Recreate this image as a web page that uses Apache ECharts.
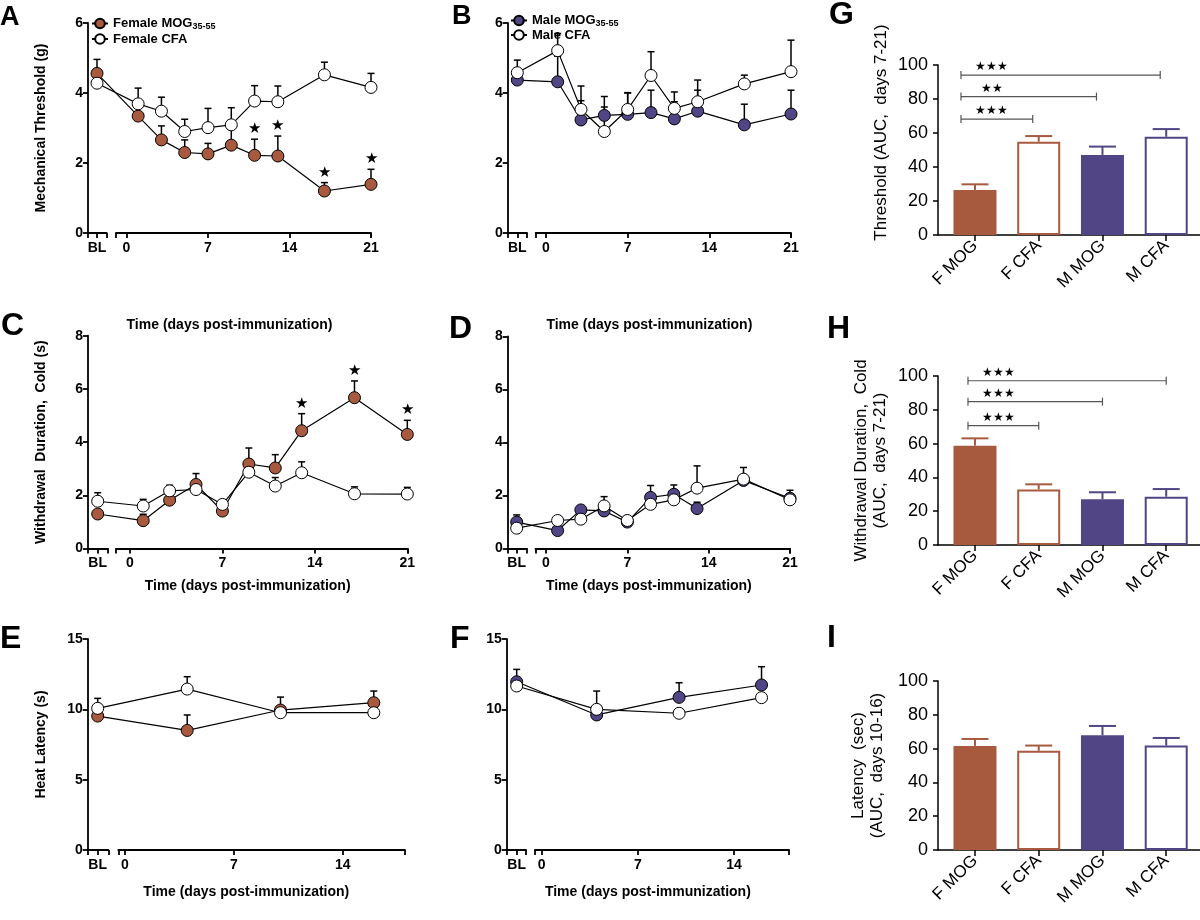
<!DOCTYPE html>
<html><head><meta charset="utf-8">
<script src="https://cdn.jsdelivr.net/npm/echarts@6/dist/echarts.min.js"></script>
<style>html,body{margin:0;padding:0;background:#fff}#c{width:1200px;height:920px}</style>
</head><body><div id="c"></div>
<script>
// ================= DATA =================
const daysMain = ['BL', 1, 3, 5, 7, 9, 11, 13, 17, 21];   // panels A-D
const daysHeat = ['BL', 4, 10, 16];                       // panels E-F
const ticksMain = [0, 7, 14, 21];
const ticksHeat = [0, 7, 14];

// A: female mechanical threshold (g)
const mechFemMogMean = [4.56, 3.34, 2.66, 2.30, 2.26, 2.51, 2.22, 2.20, 1.20, 1.39];
const mechFemMogSem  = [0.40, 0.25, 0.40, 0.36, 0.30, 0.50, 0.46, 0.57, 0.24, 0.43];
const mechFemCfaMean = [4.28, 3.69, 3.48, 2.90, 3.01, 3.09, 3.77, 3.75, 4.52, 4.16];
const mechFemCfaSem  = [0.20, 0.45, 0.40, 0.35, 0.55, 0.49, 0.44, 0.45, 0.36, 0.40];
const mechFemSigDays = [11, 13, 17, 21];

// B: male mechanical threshold (g)
const mechMaleMogMean = [4.37, 4.32, 3.23, 3.36, 3.39, 3.44, 3.26, 3.48, 3.09, 3.40];
const mechMaleMogSem  = [0.20, 0.73, 0.55, 0.54, 0.61, 0.64, 0.49, 0.60, 0.59, 0.68];
const mechMaleCfaMean = [4.58, 5.21, 3.53, 2.90, 3.53, 4.50, 3.56, 3.75, 4.26, 4.61];
const mechMaleCfaSem  = [0.36, 0.49, 0.67, 0.70, 0.48, 0.68, 0.47, 0.62, 0.25, 0.90];

// C: female cold withdrawal duration (s)
const coldFemMogMean = [1.30, 1.05, 1.82, 2.41, 1.41, 3.18, 3.03, 4.43, 5.67, 4.29];
const coldFemMogSem  = [0.10, 0.24, 0.15, 0.41, 0.10, 0.60, 0.50, 0.64, 0.63, 0.53];
const coldFemCfaMean = [1.78, 1.60, 2.17, 2.22, 1.66, 2.87, 2.35, 2.85, 2.06, 2.05];
const coldFemCfaSem  = [0.32, 0.25, 0.21, 0.15, 0.10, 0.15, 0.32, 0.41, 0.26, 0.25];
const coldFemSigDays = [13, 17, 21];

// D: male cold withdrawal duration (s)
const coldMaleMogMean = [1.00, 0.68, 1.46, 1.42, 1.00, 1.93, 2.05, 1.51, 2.57, 1.90];
const coldMaleMogSem  = [0.27, 0.10, 0.10, 0.15, 0.10, 0.45, 0.35, 0.24, 0.20, 0.30];
const coldMaleCfaMean = [0.77, 1.06, 1.11, 1.61, 1.06, 1.67, 1.84, 2.28, 2.62, 1.84];
const coldMaleCfaSem  = [0.10, 0.10, 0.10, 0.35, 0.10, 0.20, 0.20, 0.84, 0.44, 0.20];

// E: female heat latency (s)
const heatFemMogMean = [9.52, 8.50, 9.95, 10.47];
const heatFemMogSem  = [0.30, 1.10, 0.92, 0.83];
const heatFemCfaMean = [10.07, 11.44, 9.76, 9.76];
const heatFemCfaSem  = [0.71, 0.88, 0.20, 0.20];

// F: male heat latency (s)
const heatMaleMogMean = [11.96, 9.60, 10.85, 11.73];
const heatMaleMogSem  = [0.88, 0.30, 1.04, 1.30];
const heatMaleCfaMean = [11.66, 10.00, 9.72, 10.83];
const heatMaleCfaSem  = [0.30, 1.30, 0.20, 0.20];

// G-I: AUC bar charts
const groups = ['F MOG', 'F CFA', 'M MOG', 'M CFA'];
const aucMechMean = [26.5, 54.9, 47.1, 57.8];
const aucMechSem  = [3.3, 3.3, 4.9, 4.5];
const aucColdMean = [58.8, 32.9, 27.0, 28.6];
const aucColdSem  = [4.3, 3.0, 4.2, 4.5];
const aucHeatMean = [61.6, 58.7, 67.9, 61.8];
const aucHeatSem  = [4.1, 3.1, 5.5, 4.5];

// significance brackets (from F MOG to group index)
const aucMechSigTo = [3, 2, 1];
const aucMechSigY = [94.1, 81.4, 68.2];
const aucMechSigStars = ['★★★', '★★', '★★★'];
const aucColdSigTo = [3, 2, 1];
const aucColdSigY = [97.2, 84.8, 70.6];
const aucColdSigStars = ['★★★', '★★★', '★★★'];

// ================= STYLE / LAYOUT =================
const FONT = '"Liberation Sans", Arial, Helvetica, sans-serif';
const FEMALE = '#A85A3E';
const MALE = '#514585';
const BLACK = '#000';

const grid = [], xAxis = [], yAxis = [], series = [], title = [], legend = [];

function errRender(capHalf, lw, colorFn) {
  return function (params, api) {
    const x = api.value(0), m = api.value(1), t = api.value(2);
    const p0 = api.coord([x, m]), p1 = api.coord([x, t]);
    const c = colorFn ? colorFn(params.dataIndex) : BLACK;
    return {type: 'group', children: [
      {type: 'line', shape: {x1: p0[0], y1: p0[1], x2: p1[0], y2: p1[1]}, style: {stroke: c, lineWidth: lw}},
      {type: 'line', shape: {x1: p1[0] - capHalf, y1: p1[1], x2: p1[0] + capHalf, y2: p1[1]}, style: {stroke: c, lineWidth: lw}}
    ]};
  };
}

function addLinePanel(L, days, ticks, sets, yName, xName, xNameGap, sigDays) {
  const min = (L.yx - L.x0) / L.ppd;
  const max = L.dEnd;
  const blPos = (L.bl - L.x0) / L.ppd;
  const xOf = d => (d === 'BL' ? blPos : d);
  const top = L.top, height = L.bottom - L.top;
  const width = L.x0 + L.ppd * L.dEnd - L.yx;
  const axLine = {color: BLACK, width: 1.8};
  const labelStyle = {color: BLACK, fontFamily: FONT, fontWeight: 'bold', fontSize: 14};

  // main data grid
  const gi = grid.length;
  grid.push({left: L.yx, top, width, height});
  const xi = xAxis.length, yi = yAxis.length;
  const tv = [blPos].concat(ticks);
  xAxis.push({
    gridIndex: gi, type: 'value', min, max,
    axisLine: {show: false}, splitLine: {show: false},
    axisTick: {show: true, length: 5, lineStyle: axLine, customValues: tv},
    axisLabel: Object.assign({show: true, margin: 8, customValues: tv,
      formatter: v => (Math.abs(v - blPos) < 1e-6 ? 'BL' : String(Math.round(v)))}, labelStyle),
    name: xName, nameLocation: 'middle', nameGap: xNameGap,
    nameTextStyle: {color: BLACK, fontFamily: FONT, fontWeight: 'bold', fontSize: 14}
  });
  yAxis.push({
    gridIndex: gi, type: 'value', min: 0, max: L.ymax, interval: L.yint,
    axisLine: {show: true, onZero: false, lineStyle: axLine},
    axisTick: {show: true, length: 5, lineStyle: axLine},
    axisLabel: Object.assign({margin: 5}, labelStyle),
    splitLine: {show: false},
    name: yName, nameLocation: 'middle', nameGap: 40,
    nameTextStyle: {color: BLACK, fontFamily: FONT, fontWeight: 'bold', fontSize: 14}
  });

  // broken x-axis segments
  [[L.yx, L.s1], [L.s2, L.x0 + L.ppd * L.dEnd]].forEach(([a, b]) => {
    const g = grid.length;
    grid.push({left: a, top, width: b - a, height});
    xAxis.push({gridIndex: g, type: 'value', min: 0, max: 1,
      axisLine: {show: true, onZero: false, lineStyle: axLine},
      axisTick: {show: true, length: 5, lineStyle: axLine, customValues: [0, 1]},
      axisLabel: {show: false}, splitLine: {show: false}});
    yAxis.push({gridIndex: g, type: 'value', min: 0, max: 1, show: false});
  });

  sets.forEach((s, k) => {
    series.push({
      type: 'custom', xAxisIndex: xi, yAxisIndex: yi, z: 1, silent: true,
      renderItem: errRender(3.5, 1.5),
      data: days.map((d, i) => [xOf(d), s.mean[i], s.mean[i] + s.sem[i]])
    });
    series.push({
      type: 'line', name: s.name, xAxisIndex: xi, yAxisIndex: yi, z: 3 + k,
      symbol: 'circle', symbolSize: 12, showSymbol: true,
      itemStyle: {color: s.fill, borderColor: BLACK, borderWidth: 1},
      lineStyle: {color: BLACK, width: 1.2},
      data: days.map((d, i) => [xOf(d), s.mean[i]])
    });
  });

  if (sigDays) {
    const s = sets[0];
    series.push({
      type: 'custom', xAxisIndex: xi, yAxisIndex: yi, z: 6, silent: true,
      renderItem: function (params, api) {
        const p = api.coord([api.value(0), api.value(1)]);
        return {type: 'text', x: p[0], y: p[1] - 10,
          style: {text: '★', fill: BLACK, fontSize: 15, align: 'center', verticalAlign: 'middle'}};
      },
      data: sigDays.map(d => {
        const i = days.indexOf(d);
        return [xOf(d), s.mean[i] + s.sem[i]];
      })
    });
  }
}

const barStyles = [
  {color: FEMALE},
  {color: '#fff', borderColor: FEMALE, borderWidth: 2},
  {color: MALE},
  {color: '#fff', borderColor: MALE, borderWidth: 2}
];
const barColors = [FEMALE, FEMALE, MALE, MALE];

function addBarPanel(B, means, sems, yName, yNameGap, yNamePad, sig) {
  const gi = grid.length;
  grid.push({left: 938, top: B.top, width: 262, height: B.bottom - B.top});
  const xi = xAxis.length, yi = yAxis.length;
  const axLine = {color: BLACK, width: 1.5};
  const cv = [0, 1, 2, 3];
  xAxis.push({gridIndex: gi, type: 'value', min: -0.58, max: 3.53,
    axisLine: {show: true, onZero: false, lineStyle: axLine},
    axisTick: {show: true, length: 6, lineStyle: axLine, customValues: cv},
    axisLabel: {customValues: cv, formatter: v => groups[Math.round(v)], rotate: 45, margin: 8,
      color: BLACK, fontFamily: FONT, fontSize: 17},
    splitLine: {show: false}});
  yAxis.push({gridIndex: gi, type: 'value', min: 0, max: 100, interval: 20,
    axisLine: {show: true, onZero: false, lineStyle: axLine},
    axisTick: {show: true, length: 5, lineStyle: axLine},
    axisLabel: {margin: 10, color: BLACK, fontFamily: FONT, fontSize: 18},
    splitLine: {show: false},
    name: yName, nameLocation: 'middle', nameGap: yNameGap,
    nameTextStyle: {color: BLACK, fontFamily: FONT, fontSize: 17, lineHeight: 19, padding: yNamePad, align: 'center'}});
  series.push({type: 'bar', xAxisIndex: xi, yAxisIndex: yi, barWidth: 43, z: 2,
    data: means.map((m, i) => ({value: [i, m], itemStyle: barStyles[i]}))});
  series.push({type: 'custom', xAxisIndex: xi, yAxisIndex: yi, z: 1, silent: true,
    renderItem: errRender(13.5, 2, i => barColors[i]),
    data: means.map((m, i) => [i, m, m + sems[i]])});
  if (sig) {
    series.push({type: 'custom', xAxisIndex: xi, yAxisIndex: yi, z: 3, silent: true,
      renderItem: function (params, api) {
        const a = api.coord([api.value(0), api.value(2)]);
        const b = api.coord([api.value(1), api.value(2)]);
        const x1 = a[0] + B.bracketStart, x2 = b[0] + B.bracketEnd, y = a[1];
        const st = {stroke: '#555', lineWidth: 1.2};
        return {type: 'group', children: [
          {type: 'line', shape: {x1, y1: y, x2, y2: y}, style: st},
          {type: 'line', shape: {x1, y1: y - 4, x2: x1, y2: y + 4}, style: st},
          {type: 'line', shape: {x1: x2, y1: y - 4, x2, y2: y + 4}, style: st},
          {type: 'text', x: x1 + 31, y: y - 8,
            style: {text: sig.stars[params.dataIndex], fill: BLACK, fontSize: 12, align: 'center', verticalAlign: 'middle'}}
        ]};
      },
      data: sig.to.map((t, i) => [0, t, sig.y[i]])});
  }
}

// ================= BUILD =================
const TIME = 'Time (days post-immunization)';
addLinePanel({yx: 88, x0: 126.5, ppd: 11.643, dEnd: 21, bl: 97, s1: 106.7, s2: 116, top: 23, bottom: 233, ymax: 6, yint: 2},
  daysMain, ticksMain,
  [{name: 'Female MOG', mean: mechFemMogMean, sem: mechFemMogSem, fill: FEMALE},
   {name: 'Female CFA', mean: mechFemCfaMean, sem: mechFemCfaSem, fill: '#fff'}],
  'Mechanical Threshold (g)', TIME, 85, mechFemSigDays);
addLinePanel({yx: 507.7, x0: 546, ppd: 11.667, dEnd: 21, bl: 517.3, s1: 527, s2: 535.7, top: 23, bottom: 233, ymax: 6, yint: 2},
  daysMain, ticksMain,
  [{name: 'Male MOG', mean: mechMaleMogMean, sem: mechMaleMogSem, fill: MALE},
   {name: 'Male CFA', mean: mechMaleCfaMean, sem: mechMaleCfaSem, fill: '#fff'}],
  '', TIME, 85, null);
addLinePanel({yx: 88, x0: 130, ppd: 13.205, dEnd: 21, bl: 97.7, s1: 108, s2: 116, top: 335.7, bottom: 548.6, ymax: 8, yint: 2},
  daysMain, ticksMain,
  [{name: 'Female MOG', mean: coldFemMogMean, sem: coldFemMogSem, fill: FEMALE},
   {name: 'Female CFA', mean: coldFemCfaMean, sem: coldFemCfaSem, fill: '#fff'}],
  'Withdrawal  Duration,  Cold (s)', TIME, 31, coldFemSigDays);
addLinePanel({yx: 507.7, x0: 546, ppd: 11.619, dEnd: 21, bl: 516.7, s1: 527, s2: 535.5, top: 336.5, bottom: 548.6, ymax: 8, yint: 2},
  daysMain, ticksMain,
  [{name: 'Male MOG', mean: coldMaleMogMean, sem: coldMaleMogSem, fill: MALE},
   {name: 'Male CFA', mean: coldMaleCfaMean, sem: coldMaleCfaSem, fill: '#fff'}],
  '', TIME, 31, null);
addLinePanel({yx: 87.7, x0: 125, ppd: 15.55, dEnd: 18, bl: 97.7, s1: 108.3, s2: 118.3, top: 639, bottom: 850, ymax: 15, yint: 5},
  daysHeat, ticksHeat,
  [{name: 'Female MOG', mean: heatFemMogMean, sem: heatFemMogSem, fill: FEMALE},
   {name: 'Female CFA', mean: heatFemCfaMean, sem: heatFemCfaSem, fill: '#fff'}],
  'Heat Latency (s)', TIME, 35, null);
addLinePanel({yx: 506.7, x0: 541.7, ppd: 13.74, dEnd: 18, bl: 516.7, s1: 526, s2: 535, top: 639, bottom: 850, ymax: 15, yint: 5},
  daysHeat, ticksHeat,
  [{name: 'Male MOG', mean: heatMaleMogMean, sem: heatMaleMogSem, fill: MALE},
   {name: 'Male CFA', mean: heatMaleCfaMean, sem: heatMaleCfaSem, fill: '#fff'}],
  '', TIME, 35, null);

addBarPanel({top: 65, bottom: 235, bracketStart: -14, bracketEnd: -6}, aucMechMean, aucMechSem,
  'Threshold (AUC,  days 7-21)', 47, [0, 0, 0, 35],
  {to: aucMechSigTo, y: aucMechSigY, stars: aucMechSigStars});
addBarPanel({top: 376, bottom: 545, bracketStart: -7, bracketEnd: 0}, aucColdMean, aucColdSem,
  'Withdrawal Duration,  Cold\n(AUC,  days 7-21)', 48, 0,
  {to: aucColdSigTo, y: aucColdSigY, stars: aucColdSigStars});
addBarPanel({top: 681, bottom: 850}, aucHeatMean, aucHeatSem,
  'Latency  (sec)\n(AUC,  days 10-16)', 51, 0, null);

// panel letters
const letters = [
  ['A', 0, 4, 27], ['B', 452, 3, 27], ['C', 1, 310, 32], ['D', 449, 313, 32],
  ['E', 0, 623, 32], ['F', 450, 623, 32], ['G', 829, -1, 32], ['H', 827, 313, 32], ['I', 827, 622, 32]
];
letters.forEach(([t, l, tp, fs]) => title.push({text: t, left: l, top: tp, padding: 0,
  textStyle: {fontFamily: FONT, fontWeight: 'bold', fontSize: fs, color: BLACK}}));

const legendRich = {
  b: {fontFamily: FONT, fontWeight: 'bold', fontSize: 13, color: BLACK},
  s: {fontFamily: FONT, fontWeight: 'bold', fontSize: 9, color: BLACK, padding: [7, 0, 0, 0]}
};
const legendFmt = n => (n.indexOf('MOG') >= 0 ? '{b|' + n + '}{s|35-55}' : '{b|' + n + '}');
legend.push({left: 86, top: 12, orient: 'vertical', itemGap: 1, itemWidth: 16, itemHeight: 12,
  data: ['Female MOG', 'Female CFA'], formatter: legendFmt, textStyle: {rich: legendRich}, selectedMode: false});
legend.push({left: 505, top: 9, orient: 'vertical', itemGap: 0, itemWidth: 16, itemHeight: 12,
  data: ['Male MOG', 'Male CFA'], formatter: legendFmt, textStyle: {rich: legendRich}, selectedMode: false});

const chart = echarts.init(document.getElementById('c'), null, {renderer: 'canvas'});
chart.setOption({animation: false, backgroundColor: '#fff', title, legend, grid, xAxis, yAxis, series});
</script></body></html>
